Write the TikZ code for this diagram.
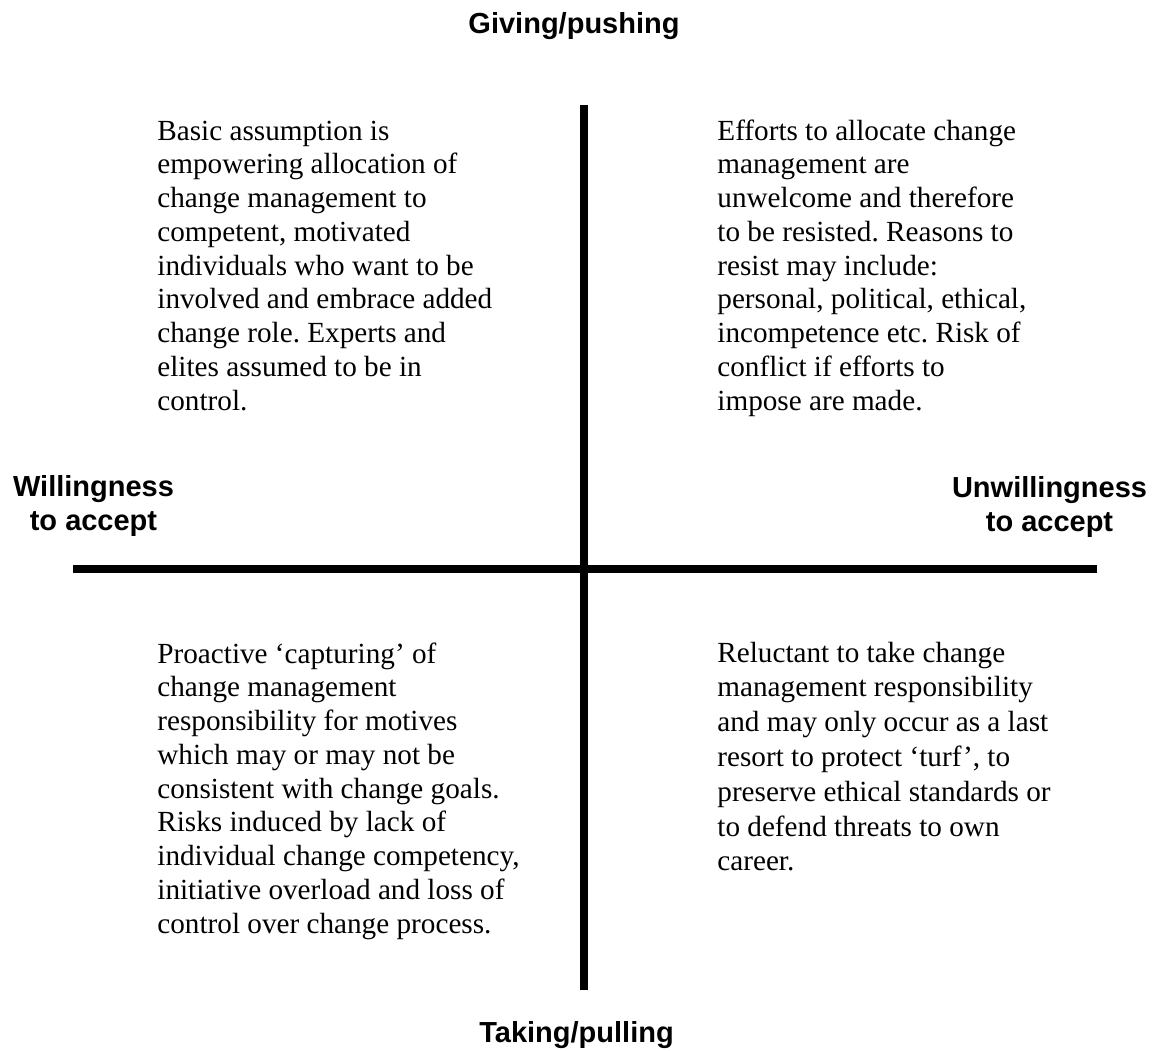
\documentclass[tikz,border=0pt]{standalone}
\usepackage{fontspec}
\setmainfont{Liberation Serif}
\newfontfamily\headfont{Liberation Sans}
\frenchspacing
\begin{document}
\begin{tikzpicture}[x=0.5pt,y=-0.5pt]
\tikzset{
  axisline/.style={line width=4.15pt, line cap=butt, black},
  headtext/.style={inner sep=0pt, anchor=base, font=\headfont\bfseries\fontsize{14.5}{17.2}\selectfont},
  quadtext/.style={inner sep=0pt, anchor=base west, font=\fontsize{14.6}{16.875}\selectfont},
}
\useasboundingbox (0,0) rectangle (1165,1050);
\coordinate (top) at (584,105);
\coordinate (bot) at (584,990);
\coordinate (lft) at (73,569);
\coordinate (rgt) at (1097,569);
\draw[axisline] (top) -- (bot);
\draw[axisline] (lft) -- (rgt);

\node[headtext] (give) at (574,33) {Giving/pushing};
\node[headtext] (take) at (576.5,1042) {Taking/pulling};
\node[headtext] (will) at (93.5,496) {\parbox[t]{120pt}{\centering Willingness\\to accept}};
\node[headtext] (unwill) at (1049.5,497) {\parbox[t]{120pt}{\centering Unwillingness\\to accept}};

\node[quadtext] (tl) at (157,140) {\parbox[t]{215pt}{\raggedright
Basic assumption is\\
empowering allocation of\\
change management to\\
competent, motivated\\
individuals who want to be\\
involved and embrace added\\
change role. Experts and\\
elites assumed to be in\\
control.}};

\node[quadtext] (tr) at (717,140) {\parbox[t]{215pt}{\raggedright
Efforts to allocate change\\
management are\\
unwelcome and therefore\\
to be resisted. Reasons to\\
resist may include:\\
personal, political, ethical,\\
incompetence etc. Risk of\\
conflict if efforts to\\
impose are made.}};

\node[quadtext] (bl) at (157,663) {\parbox[t]{215pt}{\raggedright
Proactive ‘capturing’ of\\
change management\\
responsibility for motives\\
which may or may not be\\
consistent with change goals.\\
Risks induced by lack of\\
individual change competency,\\
initiative overload and loss of\\
control over change process.}};

\node[quadtext, font=\fontsize{14.6}{17.4}\selectfont] (br) at (717,662) {\parbox[t]{215pt}{\raggedright
Reluctant to take change\\
management responsibility\\
and may only occur as a last\\
resort to protect ‘turf’, to\\
preserve ethical standards or\\
to defend threats to own\\
career.}};
\end{tikzpicture}
\end{document}
